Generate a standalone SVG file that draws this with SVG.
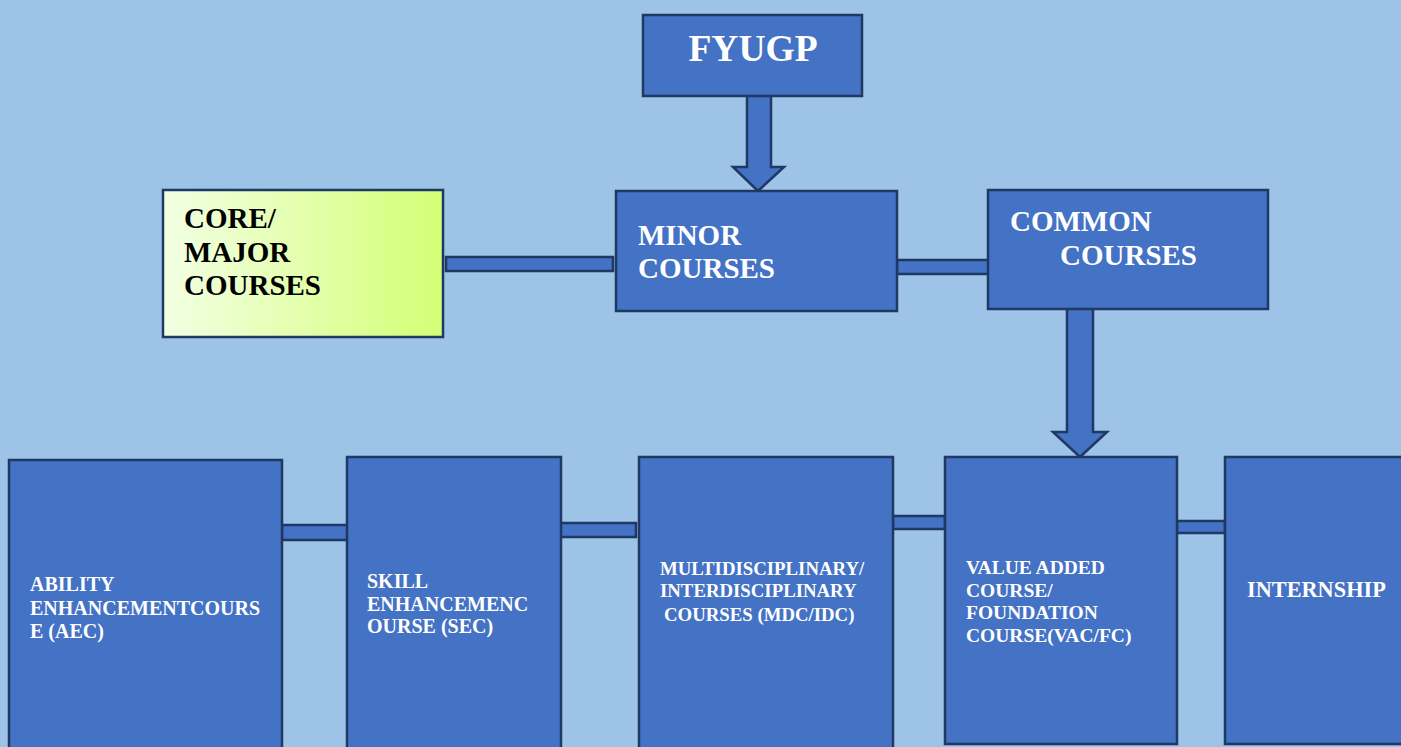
<svg xmlns="http://www.w3.org/2000/svg" width="1401" height="747" viewBox="0 0 1401 747">
<defs>
<linearGradient id="coreGrad" x1="0" y1="0" x2="1" y2="0">
<stop offset="0" stop-color="#F2FFE4"/>
<stop offset="1" stop-color="#D4FF74"/>
</linearGradient>
<style>
.box{fill:#4472C4;stroke:#1F3864;stroke-width:2.5}
.conn{fill:#4472C4;stroke:#1F3864;stroke-width:2.5}
.t{font-family:"Liberation Serif","Times New Roman",serif;font-weight:bold;fill:#FFFFFF}
.tb{font-family:"Liberation Serif","Times New Roman",serif;font-weight:bold;fill:#000000}
</style>
</defs>
<rect x="0" y="0" width="1401" height="747" fill="#9DC3E6"/>

<g id="connectors">
<polygon class="conn" points="747,94 771,94 771,167 784,167 758,191 733,167 747,167"/>
<rect class="conn" x="446" y="257" width="167" height="14"/>
<rect class="conn" x="897" y="260" width="94" height="14"/>
<polygon class="conn" points="1067,307 1093,307 1093,432 1107,432 1080,457 1053,432 1067,432"/>
<rect class="conn" x="282" y="525" width="66" height="15"/>
<rect class="conn" x="560" y="523" width="76" height="14"/>
<rect class="conn" x="893" y="516" width="52" height="13"/>
<rect class="conn" x="1177" y="521" width="48" height="12"/>
</g>

<g id="fyugp">
<rect class="box" x="643" y="15" width="219" height="81"/>
<text class="t" x="753" y="61" font-size="37.5" text-anchor="middle">FYUGP</text>
</g>

<g id="core">
<rect x="163" y="190" width="280" height="147" fill="url(#coreGrad)" stroke="#1F3864" stroke-width="2.5"/>
<text class="tb" font-size="29"><tspan x="184" y="228">CORE/</tspan><tspan x="184" y="262">MAJOR</tspan><tspan x="184" y="295">COURSES</tspan></text>
</g>

<g id="minor">
<rect class="box" x="616" y="191" width="281" height="120"/>
<text class="t" font-size="29"><tspan x="638" y="245">MINOR</tspan><tspan x="638" y="278">COURSES</tspan></text>
</g>

<g id="common">
<rect class="box" x="988" y="190" width="280" height="119"/>
<text class="t" font-size="29"><tspan x="1010" y="231">COMMON</tspan><tspan x="1060" y="265">COURSES</tspan></text>
</g>

<g id="aec">
<rect class="box" x="9" y="460" width="273" height="300"/>
<text class="t" font-size="20"><tspan x="30" y="591">ABILITY</tspan><tspan x="30" y="615">ENHANCEMENTCOURS</tspan><tspan x="30" y="638">E (AEC)</tspan></text>
</g>

<g id="sec">
<rect class="box" x="347" y="457" width="214" height="300"/>
<text class="t" font-size="20"><tspan x="367" y="588">SKILL</tspan><tspan x="367" y="611">ENHANCEMENC</tspan><tspan x="367" y="633">OURSE (SEC)</tspan></text>
</g>

<g id="mdc">
<rect class="box" x="639" y="457" width="254" height="300"/>
<text class="t" font-size="18.8"><tspan x="660" y="575">MULTIDISCIPLINARY/</tspan><tspan x="660" y="597">INTERDISCIPLINARY</tspan><tspan x="664" y="621">COURSES (MDC/IDC)</tspan></text>
</g>

<g id="vac">
<rect class="box" x="945" y="457" width="232" height="287"/>
<text class="t" font-size="19.5"><tspan x="966" y="574">VALUE ADDED</tspan><tspan x="966" y="597">COURSE/</tspan><tspan x="966" y="619">FOUNDATION</tspan><tspan x="966" y="642">COURSE(VAC/FC)</tspan></text>
</g>

<g id="internship">
<rect class="box" x="1225" y="457" width="190" height="287"/>
<text class="t" x="1247" y="597" font-size="22.3">INTERNSHIP</text>
</g>
</svg>
